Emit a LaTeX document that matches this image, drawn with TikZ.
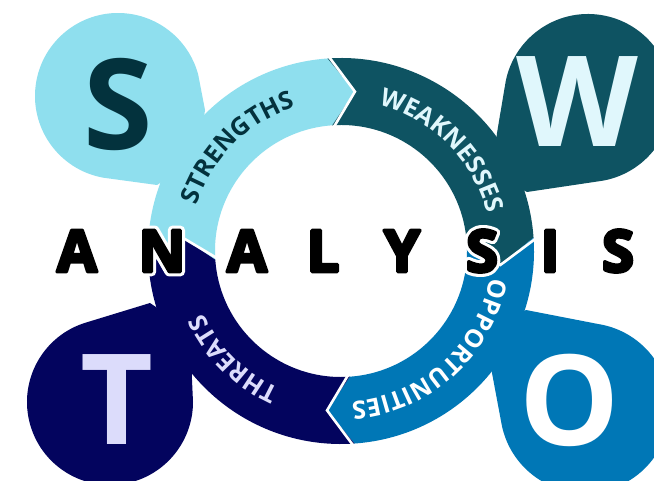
\documentclass[tikz,border=0pt]{standalone}
\usepackage{fontspec}
\setmainfont{Open Sans}
\usetikzlibrary{calc,decorations.text}
\definecolor{cS}{HTML}{8FDFEE}
\definecolor{cW}{HTML}{0E5362}
\definecolor{cO}{HTML}{0077B6}
\definecolor{cT}{HTML}{03045E}
\definecolor{tS}{HTML}{03323D}
\definecolor{tW}{HTML}{E0F7FC}
\definecolor{tT}{HTML}{DCDCFB}
\newcommand\bigletter{\fontsize{126}{126}\selectfont\bfseries}
\newcommand\anfont{\fontsize{58}{58}\selectfont\bfseries}
\newcommand\lblfont{\fontsize{25}{25}\selectfont\bfseries}
\newcommand\outl[3]{\special{pdf:literal direct 2 Tr #2 w 1 j 1 J #1 RG}#3\special{pdf:literal direct 0 Tr}}
\begin{document}
\begin{tikzpicture}[x=1pt,y=1pt,
  chev/.style={draw=white,line width=2.6pt,miter limit=20},
  bigl/.style={inner sep=0pt,anchor=center},
  anw/.style={inner sep=0pt,anchor=center,font=\anfont},
  seglbl/.style={decorate,decoration={text along path,text align=center,
     text={|\lblfont|#1}}}]
\clip (0,0) rectangle (654,480);
\useasboundingbox (0,0) rectangle (654,480);
\fill[white] (0,0) rectangle (654,480);
\coordinate (c) at (341,229);
% blobs
\fill[cS] (157,295) -- ($(118,384)+(260:83)$) arc[start angle=260,end angle=15,radius=83] -- (205,370) -- ($(c)+(147:170)$) -- cycle;
\fill[cW] (497,347) -- ($(588,382)+(168:84)$) arc[start angle=168,end angle=-80,radius=84] -- (527,288) -- ($(c)+(27:170)$) -- cycle;
\fill[cT] (150,177) -- ($(110,78)+(106:83)$) arc[start angle=106,end angle=360,radius=83] -- (192,100) -- ($(c)+(208:170)$) -- cycle;
\fill[cO] (526,170) -- ($(585,72)+(81:85)$) arc[start angle=81,end angle=-167.5,radius=85] -- (492,107) -- ($(c)+(-28:170)$) -- cycle;
% ring segments
\begin{scope}[shift={(341,229)}]
\fill[cS] (184:193) arc[start angle=184,end angle=94,radius=193] -- (85:160) -- (94:126) arc[start angle=94,end angle=184,radius=126] -- (175:160) -- cycle;
\fill[cW] (94:193) arc[start angle=94,end angle=4,radius=193] -- (-5:160) -- (4:126) arc[start angle=4,end angle=94,radius=126] -- (85:160) -- cycle;
\fill[cO] (4:193) arc[start angle=4,end angle=-86,radius=193] -- (-95:160) -- (-86:126) arc[start angle=-86,end angle=4,radius=126] -- (-5:160) -- cycle;
\fill[cT] (274:193) arc[start angle=274,end angle=184,radius=193] -- (175:160) -- (184:126) arc[start angle=184,end angle=274,radius=126] -- (265:160) -- cycle;
\draw[chev] (94:197) -- (85:160) -- (94:122);
\draw[chev] (4:197) -- (-5:160) -- (4:122);
\draw[chev] (-86:197) -- (-95:160) -- (-86:122);
\draw[chev] (184:197) -- (175:160) -- (184:122);
% curved labels
\path[seglbl=STRENGTHS,decoration={text color=tS}] (165:151) arc[start angle=165,end angle=105,radius=151];
\path[seglbl=WEAKNESSES,decoration={text color=tW}] (76:151) arc[start angle=76,end angle=14,radius=151];
\path[seglbl=OPPORTUNITIES,decoration={text color=white}] (-6:151) arc[start angle=-6,end angle=-90,radius=151];
\path[seglbl=THREATS,decoration={text color=tT}] (252:151) arc[start angle=252,end angle=198,radius=151];
\end{scope}
% big letters
\node[bigl,text=tS,font=\bigletter] (ls) at (118,376) {S};
\node[bigl,text=tW,font=\bigletter] (lw) at (577,378) {W};
\node[bigl,text=tT,font=\bigletter] (lt) at (117,80) {T};
\node[bigl,text=white,font=\bigletter] (lo) at (570,80) {O};
% ANALYSIS
\foreach \ch/\xx [count=\i] in {A/77,N/162,A/247,L/323,Y/402,S/482,I/550,S/618}{
  \node[anw,text=white] (aw\i) at (\xx,229) {\outl{1 1 1}{9.4}{\ch}};
  \node[anw,text=black] (ab\i) at (\xx,229) {\outl{0 0 0}{3.2}{\ch}};
}
\end{tikzpicture}
\end{document}
